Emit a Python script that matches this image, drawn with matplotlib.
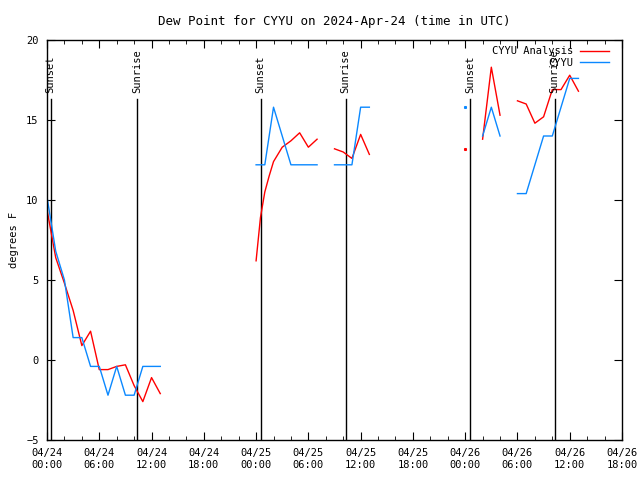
import numpy as np
import matplotlib
matplotlib.use("Agg")
import matplotlib.pyplot as plt
import matplotlib.dates as mdates
from datetime import datetime, timedelta

nan = np.nan
start = datetime(2024, 4, 24, 0, 0)

# hours after 04/24 00:00 UTC, nan marks a gap in the record
analysis_hours = [0, 1, 2, 3, 4, 5, 6, 7, 8, 9, 10, 11, 12, 13, 18,
                  24, 24.5, 25, 25.5, 26, 27, 28, 29, 30, 31, 32,
                  33, 34, 35, 36, 37, 42,
                  48, 49,
                  50, 51, 52, 53,
                  54, 55, 56, 57, 58, 59, 60, 61]
analysis_values = [9.4, 6.4, 4.8, 3.1, 0.9, 1.8, -0.6, -0.6, -0.4, -0.3, -1.6, -2.6, -1.1, -2.1, nan,
                   6.2, 8.9, 10.5, 11.5, 12.4, 13.3, 13.7, 14.2, 13.3, 13.8, nan,
                   13.2, 13.0, 12.6, 14.1, 12.85, nan,
                   13.2, nan,
                   13.8, 18.3, 15.3, nan,
                   16.2, 16.0, 14.8, 15.2, 16.9, 16.9, 17.8, 16.8]

obs_hours = [0, 1, 2, 3, 4, 5, 6, 7, 8, 9, 10, 11, 12, 13, 18,
             24, 25, 26, 27, 28, 29, 30, 31, 32,
             33, 34, 35, 36, 37, 42,
             48, 49,
             50, 51, 52, 53,
             54, 55, 56, 57, 58, 59, 60, 61]
obs_values = [10.2, 6.8, 5.0, 1.4, 1.4, -0.4, -0.4, -2.2, -0.4, -2.2, -2.2, -0.4, -0.4, -0.4, nan,
              12.2, 12.2, 15.8, 14.0, 12.2, 12.2, 12.2, 12.2, nan,
              12.2, 12.2, 12.2, 15.8, 15.8, nan,
              15.8, nan,
              14.0, 15.8, 14.0, nan,
              10.4, 10.4, 12.2, 14.0, 14.0, 15.8, 17.6, 17.6]

sun_events = ["Sunset", "Sunrise", "Sunset", "Sunrise", "Sunset", "Sunrise"]
sun_hours = [0.42, 10.37, 24.53, 34.29, 48.55, 58.28]


def to_times(hours):
    return [start + timedelta(hours=h) for h in hours]


def isolated(values):
    v = np.array(values, dtype=float)
    prev_nan = np.concatenate([[True], np.isnan(v[:-1])])
    next_nan = np.concatenate([np.isnan(v[1:]), [True]])
    return ~np.isnan(v) & prev_nan & next_nan


plt.rcParams['font.family'] = ['DejaVu Sans Mono']
plt.rcParams['font.size'] = 7.5

fig = plt.figure(figsize=(6.4, 4.8), dpi=100)
ax = fig.add_axes([47 / 640, 40 / 480, 575 / 640, 400 / 480])

red = '#ff0000'
blue = '#0a88ff'

for ev, h in zip(sun_events, sun_hours):
    t = start + timedelta(hours=h)
    ax.plot([t, t], [-5, 16.3], color='black', lw=1.0)
    ax.text(t, 16.7, ev, rotation=90, ha='center', va='bottom')

for hours, values, color, label in [(analysis_hours, analysis_values, red, 'CYYU Analysis'),
                                    (obs_hours, obs_values, blue, 'CYYU')]:
    times = to_times(hours)
    ax.plot(times, values, color=color, lw=1.0, label=label)
    mask = isolated(values)
    ax.plot(np.array(times)[mask], np.array(values)[mask], ls='none',
            marker='s', ms=1.2, color=color)

ax.set_xlim(start, start + timedelta(hours=66))
ax.set_ylim(-5, 20)
ax.xaxis.set_major_locator(mdates.HourLocator(byhour=[0, 6, 12, 18]))
ax.xaxis.set_minor_locator(mdates.HourLocator(byhour=range(0, 24, 2)))
ax.xaxis.set_major_formatter(mdates.DateFormatter('%m/%d\n%H:%M'))
ax.set_yticks([-5, 0, 5, 10, 15, 20])
ax.tick_params(which='both', direction='in', top=True, right=True, pad=6)
ax.tick_params(which='major', length=6)
ax.tick_params(which='minor', length=3)
for sp in ax.spines.values():
    sp.set_linewidth(1.0)

ax.set_ylabel('degrees F', labelpad=5)
ax.set_title('Dew Point for CYYU on 2024-Apr-24 (time in UTC)', pad=11)
ax.legend(loc='upper right', frameon=False, markerfirst=False,
          handlelength=2.8, handletextpad=0.6, labelspacing=0.15,
          borderaxespad=0.2, bbox_to_anchor=(0.988, 1.0))

fig.savefig('out.png', dpi=100)
